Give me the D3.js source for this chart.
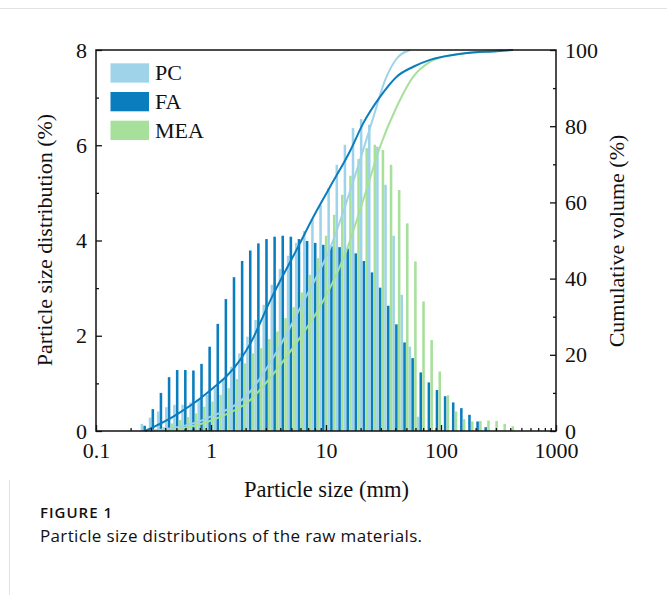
<!DOCTYPE html>
<html>
<head>
<meta charset="utf-8">
<script src="https://cdn.jsdelivr.net/npm/d3@7"></script>
<style>
	body { margin: 0; background: #fff; }
	svg text { font-family: "Liberation Serif", "Times New Roman", serif; fill: #111; }
	.caption text { font-family: "Open Sans", "Noto Sans", sans-serif; }
</style>
</head>
<body>
<svg id="chart"></svg>
<script>
// bin sizes (mm) and % per bin
let sizes = [0.265, 0.312, 0.367, 0.432, 0.508, 0.598, 0.703, 0.827, 0.973, 1.145,
	1.347, 1.585, 1.865, 2.194, 2.582, 3.038, 3.574, 4.205, 4.947, 5.821,
	6.848, 8.057, 9.478, 11.15, 13.12, 15.44, 18.16, 21.37, 25.14, 29.58,
	34.80, 40.94, 48.17, 56.67, 66.67, 78.44, 92.28, 108.6, 127.7, 150.3,
	176.8, 208.0, 244.7, 287.9, 338.8, 398.6];

let pcDist = [0.15, 0.28, 0.41, 0.50, 0.55, 0.55, 0.60, 0.67, 0.76, 0.90,
	1.09, 1.35, 1.63, 1.98, 2.33, 2.65, 3.07, 3.40, 3.68, 3.95,
	4.20, 4.45, 4.75, 5.10, 5.59, 6.01, 6.36, 6.55, 6.43, 5.97,
	5.17, 4.10, 2.86, 1.77, 0.30, 0, 0, 0, 0, 0,
	0, 0, 0, 0, 0, 0];

let faDist = [0.11, 0.46, 0.80, 1.13, 1.28, 1.28, 1.27, 1.41, 1.77, 2.25,
	2.77, 3.23, 3.57, 3.79, 3.94, 4.03, 4.08, 4.10, 4.08, 4.03,
	3.99, 3.95, 3.91, 3.88, 3.86, 3.83, 3.73, 3.57, 3.33, 3.01,
	2.63, 2.24, 1.86, 1.53, 1.23, 1.02, 0.86, 0.73, 0.60, 0.48,
	0.34, 0.20, 0.08, 0, 0, 0];

let meaDist = [0, 0.03, 0.08, 0.16, 0.23, 0.29, 0.37, 0.51, 0.62, 0.76,
	0.90, 1.09, 1.42, 1.63, 1.74, 1.93, 2.09, 2.37, 2.60, 2.91,
	3.28, 3.63, 4.10, 4.54, 4.96, 5.36, 5.71, 5.94, 6.01, 5.90,
	5.59, 5.06, 4.36, 3.56, 2.72, 1.91, 1.25, 0.75, 0.41, 0.25,
	0.20, 0.21, 0.22, 0.21, 0.15, 0.10];

// cumulative volume curves (size mm, %)
let pcCumSize = [0.295, 0.918, 2.183, 3.60, 6.15, 11.2, 17.9, 25.6, 32.6, 40.6, 53.8];
let pcCumVol = [0, 3.3, 10.3, 20, 33.1, 49, 67, 82, 92, 97.5, 100];
let faCumSize = [0.267, 0.470, 0.918, 1.787, 2.183, 3.258, 5.94, 7.51, 10.8, 16.2, 21.1, 29.5, 41.2, 57.4, 80.2, 156, 305, 423];
let faCumVol = [0, 3.8, 9.9, 18.6, 22.8, 34.1, 49.3, 55.4, 64, 73.5, 80.8, 87.7, 93, 95.6, 97.4, 99.1, 99.7, 100];
let meaCumSize = [0.398, 1.121, 2.183, 3.60, 5.94, 8.57, 15.1, 21.8, 29.5, 41.2, 57.4, 80.2, 112, 156, 218, 348];
let meaCumVol = [0, 3.3, 8.1, 15.5, 24.5, 31.8, 47.5, 62, 74.6, 85.1, 93, 96.9, 98.4, 99.1, 99.5, 100];

let seriesNames = ['PC', 'FA', 'MEA'];
let colors = ['#9fd3ea', '#0a7dbf', '#a6e09a'];

let xTicks = [0.1, 1, 10, 100, 1000];
let xMinor = [];
[0.1, 1, 10, 100].forEach(function(d) {
	for (let k = 2; k < 10; k++) xMinor.push(d * k);
});
let leftTicks = [0, 2, 4, 6, 8];
let leftMinor = [1, 3, 5, 7];
let rightTicks = [0, 20, 40, 60, 80, 100];
let rightMinor = [10, 30, 50, 70, 90];

let width = 667;
let height = 595;
let plotLeft = 96, plotRight = 556, plotTop = 50, plotBottom = 431;

let svg = d3.select('#chart')
	.attr('width', width)
	.attr('height', height);

let x = d3.scaleLog().domain([0.1, 1000]).range([plotLeft, plotRight]);
let yL = d3.scaleLinear().domain([0, 8]).range([plotBottom, plotTop]);
let yR = d3.scaleLinear().domain([0, 100]).range([plotBottom, plotTop]);
let color = d3.scaleOrdinal().domain(seriesNames).range(colors);
let inGroup = d3.scaleBand().domain(seriesNames).range([-4.05, 4.05]).paddingInner(0.08);

// page frame lines
svg.append('line').attr('x1', 0).attr('x2', width).attr('y1', 8.5).attr('y2', 8.5)
	.attr('stroke', '#e2e2e2').attr('stroke-width', 1);
svg.append('line').attr('x1', 9.5).attr('x2', 9.5).attr('y1', 480).attr('y2', height)
	.attr('stroke', '#e2e2e2').attr('stroke-width', 1);

// bars
let dists = { PC: pcDist, FA: faDist, MEA: meaDist };
seriesNames.forEach(function(name) {
	let rows = sizes.map(function(s, i) { return { size: s, v: dists[name][i] }; })
		.filter(function(d) { return d.v > 0; });
	svg.append('g')
		.attr('class', 'bars-' + name)
		.selectAll('rect')
		.data(rows)
		.enter()
		.append('rect')
		.attr('x', function(d) { return x(d.size) + inGroup(name); })
		.attr('width', inGroup.bandwidth())
		.attr('y', function(d) { return yL(d.v); })
		.attr('height', function(d) { return yL(0) - yL(d.v); })
		.attr('fill', color(name));
});

// cumulative curves
let line = d3.line()
	.x(function(d) { return x(d[0]); })
	.y(function(d) { return yR(d[1]); })
	.curve(d3.curveMonotoneX);

let curves = [
	['PC', d3.zip(pcCumSize, pcCumVol)],
	['MEA', d3.zip(meaCumSize, meaCumVol)],
	['FA', d3.zip(faCumSize, faCumVol)]
];
curves.forEach(function(c) {
	svg.append('path')
		.datum(c[1])
		.attr('d', line)
		.attr('fill', 'none')
		.attr('stroke', color(c[0]))
		.attr('stroke-width', 2);
});

// axes
function styleAxis(g) {
	g.select('.domain').remove();
	g.selectAll('line').attr('stroke', '#111').attr('stroke-width', 1.3);
	g.selectAll('text').style('font-size', '22px').attr('fill', '#111');
}

svg.append('g').attr('transform', 'translate(0,' + plotBottom + ')')
	.call(d3.axisBottom(x).tickValues(xTicks).tickSize(-6).tickPadding(11)
		.tickFormat(function(d) { return d; }))
	.call(styleAxis);
svg.append('g').attr('transform', 'translate(0,' + plotBottom + ')')
	.call(d3.axisBottom(x).tickValues(xMinor).tickSize(-3).tickFormat(''))
	.call(styleAxis);

svg.append('g').attr('transform', 'translate(' + plotLeft + ',0)')
	.call(d3.axisLeft(yL).tickValues(leftTicks).tickSize(-6).tickPadding(9))
	.call(styleAxis);
svg.append('g').attr('transform', 'translate(' + plotLeft + ',0)')
	.call(d3.axisLeft(yL).tickValues(leftMinor).tickSize(-3).tickFormat(''))
	.call(styleAxis);

svg.append('g').attr('transform', 'translate(' + plotRight + ',0)')
	.call(d3.axisRight(yR).tickValues(rightTicks).tickSize(-6).tickPadding(9))
	.call(styleAxis);
svg.append('g').attr('transform', 'translate(' + plotRight + ',0)')
	.call(d3.axisRight(yR).tickValues(rightMinor).tickSize(-3).tickFormat(''))
	.call(styleAxis);

svg.append('rect')
	.attr('x', plotLeft).attr('y', plotTop)
	.attr('width', plotRight - plotLeft).attr('height', plotBottom - plotTop)
	.attr('fill', 'none')
	.attr('stroke', '#111')
	.attr('stroke-width', 1.5);

// titles
svg.append('text')
	.attr('x', (plotLeft + plotRight) / 2 + 0.5)
	.attr('y', 497)
	.attr('text-anchor', 'middle')
	.style('font-size', '22.5px')
	.text('Particle size (mm)');

svg.append('text')
	.attr('transform', 'translate(52,240) rotate(-90)')
	.attr('text-anchor', 'middle')
	.style('font-size', '22px')
	.text('Particle size distribution (%)');

svg.append('text')
	.attr('transform', 'translate(624,241) rotate(-90)')
	.attr('text-anchor', 'middle')
	.style('font-size', '22px')
	.text('Cumulative volume (%)');

// legend
let legend = svg.append('g').attr('class', 'legend');
seriesNames.forEach(function(name, i) {
	legend.append('rect')
		.attr('x', 110.5)
		.attr('y', 63.3 + i * 28.7)
		.attr('width', 38.5)
		.attr('height', 19.3)
		.attr('fill', color(name));
	legend.append('text')
		.attr('x', 155)
		.attr('y', 80 + i * 29.2)
		.style('font-size', '22px')
		.text(name);
});

// caption
let cap = svg.append('g').attr('class', 'caption');
cap.append('text')
	.attr('x', 40).attr('y', 518)
	.style('font-size', '15px')
	.style('font-weight', 600)
	.style('letter-spacing', '1px')
	.attr('fill', '#505050')
	.text('FIGURE 1');
cap.append('text')
	.attr('x', 40).attr('y', 542)
	.style('font-size', '17px')
	.style('letter-spacing', '0.35px')
	.attr('fill', '#6a6a6a')
	.text('Particle size distributions of the raw materials.');
</script>
</body>
</html>
